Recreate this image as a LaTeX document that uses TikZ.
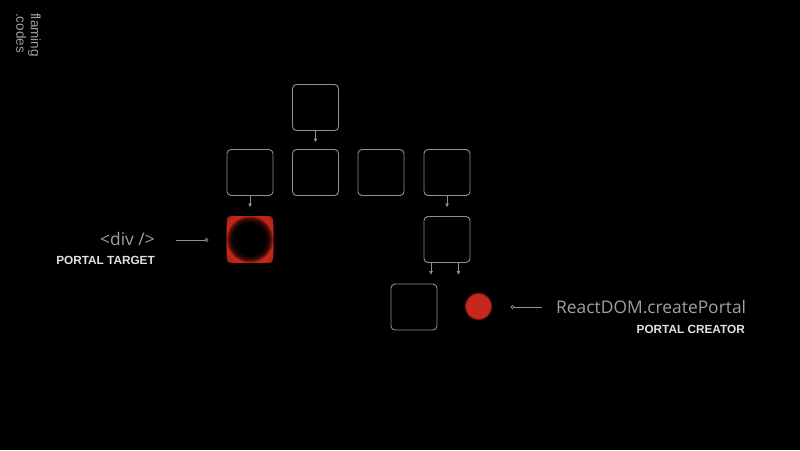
\documentclass[tikz,border=0pt]{standalone}
\usepackage{fontspec}
\setmainfont{Liberation Sans}
\newfontfamily\lightfont{Open Sans}
\usetikzlibrary{arrows.meta}
\definecolor{boxgray}{HTML}{909090}
\definecolor{txtlight}{HTML}{A0A0A0}
\definecolor{txtbold}{HTML}{E0E0E0}
\definecolor{portalred}{HTML}{C8281C}
\begin{document}
\begin{tikzpicture}[x=1pt,y=-1pt,
  box/.style={draw=boxgray, line width=0.9pt, rounded corners=4pt, minimum width=46pt, minimum height=46pt, inner sep=0pt},
  link/.style={draw=boxgray, line width=0.8pt, -{Triangle[length=3.5pt,width=3.5pt]}},
  leader/.style={draw=boxgray, line width=0.8pt},
  dot/.style={circle, draw=boxgray, line width=0.7pt, fill=black, minimum size=3.2pt, inner sep=0pt},
  lighttxt/.style={text=txtlight, font=\lightfont\fontsize{17.4}{20}\selectfont, inner sep=0pt},
  boldtxt/.style={text=txtbold, font=\bfseries\fontsize{11.8}{13}\selectfont, inner sep=0pt}]
\useasboundingbox (0,0) rectangle (800,450);
\fill[black] (0,0) rectangle (800,450);

% logo
\node[rotate=-90, anchor=north west, align=left, text=txtlight, font=\fontsize{13.6}{14.5}\selectfont, inner sep=0pt] (logo) at (41,13) {flaming\\.codes};

% boxes
\node[box] (top) at (315.5,107.5) {};
\node[box] (b1) at (250,172.5) {};
\node[box] (b2) at (315.5,172.5) {};
\node[box] (b3) at (381,172.5) {};
\node[box] (b4) at (447,172.5) {};
\node[box, draw=none] (tgt) at (250,239.5) {};
\node[box] (mid) at (447,239.5) {};
\node[box] (bot) at (414,307) {};
\node[circle, minimum size=26pt, inner sep=0pt] (creator) at (478.5,306.5) {};

% red portal target
\begin{scope}
  \clip[rounded corners=4pt] (tgt.south west) rectangle (tgt.north east);
  \fill[portalred!80!black] (tgt.south west) rectangle (tgt.north east);
  \foreach \r in {30,29,28,27,26} {\fill[portalred, opacity=0.35] (tgt.center) circle[radius=\r pt];}
  \foreach \r in {23,22,21,20,19,18,17} {\fill[black, opacity=0.3] (tgt.center) circle[radius=\r pt];}
  \fill[black] (tgt.center) circle[radius=16pt];
\end{scope}
% red creator dot
\foreach \r/\o in {14/0.2, 13.5/0.35, 13/0.5, 12.5/0.7, 12/1} {\fill[portalred, opacity=\o] (creator.center) circle[radius=\r pt];}

% arrows
\draw[link] (top.south) -- ([yshift=7pt]b2.north);
\draw[link] (b1.south) -- ([yshift=9pt]tgt.north);
\draw[link] (b4.south) -- ([yshift=9pt]mid.north);
\draw[link] ([xshift=-16pt]mid.south) -- ([xshift=-16pt,yshift=9pt]mid.south |- bot.north);
\draw[link] ([xshift=11.5pt]mid.south) -- ([xshift=11.5pt,yshift=9pt]mid.south |- bot.north);

% portal target label
\coordinate (la) at (176,240);
\node[dot] (da) at (206.5,240) {};
\draw[leader] (la) -- (da);
\node[lighttxt, anchor=base east] (divtxt) at (155,245) {<div />};
\node[boldtxt, anchor=base east] (tgtlbl) at (155,264.5) {PORTAL TARGET};

% portal creator label
\node[dot] (db) at (512.5,307) {};
\coordinate (lb) at (541.5,307);
\draw[leader] (db) -- (lb);
\node[lighttxt, anchor=base west] (cptxt) at (556,313) {ReactDOM.createPortal};
\node[boldtxt, anchor=base east] (crlbl) at (745,333) {PORTAL CREATOR};
\end{tikzpicture}
\end{document}
